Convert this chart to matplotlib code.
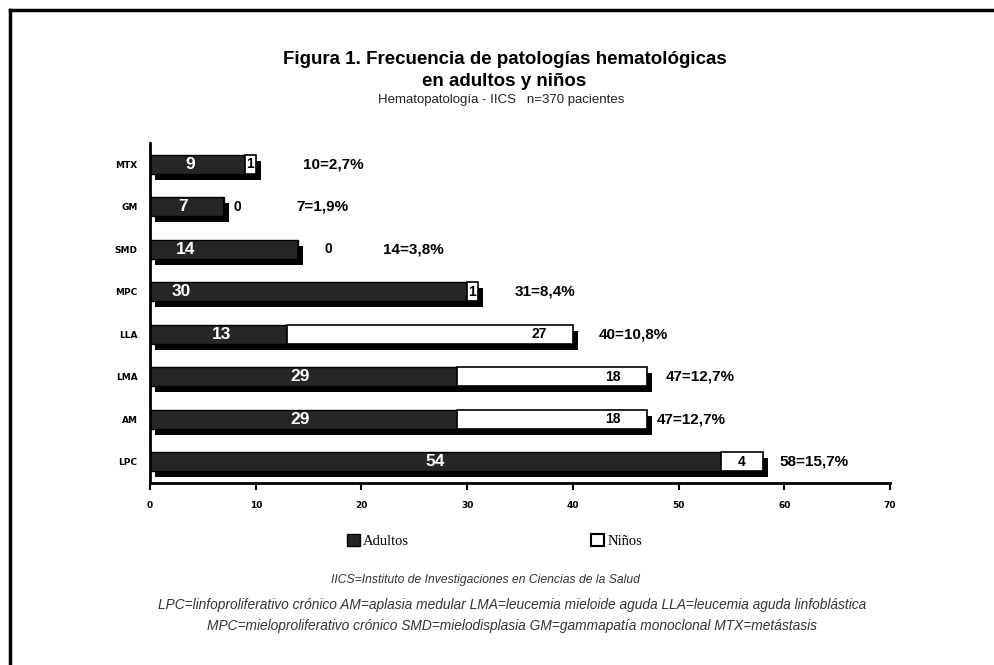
import numpy as np
import matplotlib.pyplot as plt
from matplotlib.patches import Patch
from matplotlib.lines import Line2D
from matplotlib.transforms import ScaledTranslation

# --- Dati ---
categorias = ['MTX', 'GM', 'SMD', 'MPC', 'LLA', 'LMA', 'AM', 'LPC']
adultos = [9, 7, 14, 30, 13, 29, 29, 54]
ninos = [1, 0, 0, 1, 27, 18, 18, 4]
n_total = 370
xticks = [0, 10, 20, 30, 40, 50, 60, 70]

# --- Layout etichette (solo stile) ---
frac_adulti = [0.42, 0.45, 0.24, 0.10, 0.52, 0.49, 0.49, 0.50]
gap_totale = [4.5, 6.8, 8.0, 3.5, 2.4, 1.8, 0.9, 1.5]
gap_zero = [0, 1.3, 2.9, 0, 0, 0, 0, 0]

plt.rcParams['font.family'] = ['Liberation Sans', 'DejaVu Sans']

fig = plt.figure(figsize=(9.95, 6.65), dpi=100)
ax = fig.add_axes([0.1508, 0.2737, 0.7437, 0.5113])

y = np.arange(len(categorias))[::-1]
tot = np.array(adultos) + np.array(ninos)
h = 0.45

# ombra sotto le barre
ombra = ax.barh(y, tot, height=h, color='black', zorder=1)
off = ScaledTranslation(0.05, -0.06, fig.dpi_scale_trans)
for p in ombra:
    p.set_transform(ax.transData + off)

ax.barh(y, adultos, height=h, color='#262626', edgecolor='black', linewidth=1, zorder=2)
ax.barh(y, ninos, left=adultos, height=h, color='white', edgecolor='black', linewidth=1.2, zorder=2)

for i in range(len(categorias)):
    a, c, t = adultos[i], ninos[i], tot[i]
    ax.text(a * frac_adulti[i], y[i], str(a), color='white', fontsize=12.5, fontweight='bold',
            ha='center', va='center', zorder=3)
    if c > 0:
        ax.text(t - min(c / 2, 3.2), y[i], str(c), color='black', fontsize=10, fontweight='bold',
                ha='center', va='center', zorder=3)
    else:
        ax.text(t + gap_zero[i], y[i], '0', color='black', fontsize=10, fontweight='bold',
                ha='center', va='center', zorder=3)
    pct = f"{100 * t / n_total:.1f}".replace('.', ',')
    ax.text(t + gap_totale[i], y[i], f"{t}={pct}%", color='black', fontsize=11, fontweight='bold',
            ha='left', va='center', zorder=3)

ax.set_xlim(0, 70)
ax.set_ylim(-0.5, 7.5)
ax.set_xticks(xticks)
ax.set_xticklabels([str(v) for v in xticks], fontsize=6.5, fontweight='bold', family='DejaVu Sans')
ax.set_yticks(y)
ax.set_yticklabels(categorias, fontsize=6.5, fontweight='bold', family='DejaVu Sans')
ax.tick_params(axis='y', length=0, pad=9)
ax.tick_params(axis='x', length=5, width=1.5, direction='out', pad=8)
for s in ['top', 'right']:
    ax.spines[s].set_visible(False)
for s in ['left', 'bottom']:
    ax.spines[s].set_linewidth(2)

# titoli
fig.text(0.507, 0.910, 'Figura 1. Frecuencia de patologías hematológicas', ha='center', va='center',
         fontsize=13.5, fontweight='bold')
fig.text(0.507, 0.878, 'en adultos y niños', ha='center', va='center', fontsize=13.5, fontweight='bold')
fig.text(0.504, 0.849, 'Hematopatología - IICS   n=370 pacientes', ha='center', va='center', fontsize=9.5,
         color='#222222')

# legenda
handles = [Patch(facecolor='#262626', edgecolor='black', label='Adultos'),
           Patch(facecolor='white', edgecolor='black', linewidth=1.5, label='Niños')]
fig.legend(handles=handles, loc='center', bbox_to_anchor=(0.497, 0.186), ncol=2, frameon=False,
           handlelength=0.9, handleheight=0.9, handletextpad=0.2, columnspacing=12.5,
           prop={'family': 'Liberation Serif', 'size': 10.5})

# note
fig.text(0.488, 0.128, 'IICS=Instituto de Investigaciones en Ciencias de la Salud', ha='center', va='center',
         fontsize=8.7, style='italic', color='#333333')
fig.text(0.515, 0.090, 'LPC=linfoproliferativo crónico AM=aplasia medular LMA=leucemia mieloide aguda '
         'LLA=leucemia aguda linfoblástica', ha='center', va='center', fontsize=9.9, style='italic',
         color='#333333')
fig.text(0.515, 0.059, 'MPC=mieloproliferativo crónico SMD=mielodisplasia GM=gammapatía monoclonal '
         'MTX=metástasis', ha='center', va='center', fontsize=9.9, style='italic', color='#333333')

# cornice
fig.add_artist(Line2D([0.010, 1.0], [0.985, 0.985], transform=fig.transFigure, color='black', linewidth=2.5))
fig.add_artist(Line2D([0.010, 0.010], [0.0, 0.985], transform=fig.transFigure, color='black', linewidth=2.5))

fig.savefig('out.png', dpi=100)
